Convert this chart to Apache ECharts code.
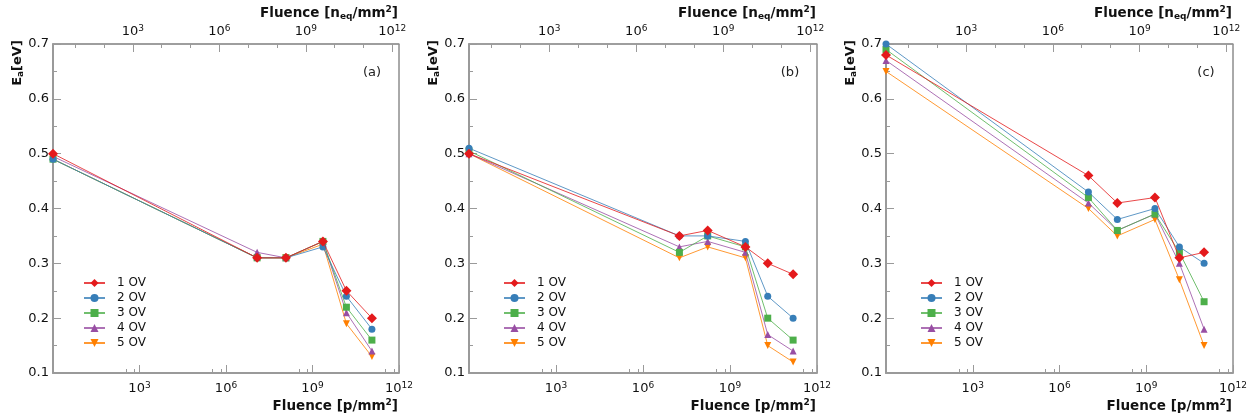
<!DOCTYPE html>
<html><head><meta charset="utf-8">
<script src="https://cdn.jsdelivr.net/npm/echarts@6/dist/echarts.min.js"></script>
<style>html,body{margin:0;padding:0;background:#fff}#c{width:1257px;height:419px}</style>
</head><body><div id="c"></div><script>
// ---- data ----
const seriesNames = ['1 OV', '2 OV', '3 OV', '4 OV', '5 OV'];
const panelLabels = ['(a)', '(b)', '(c)'];
// fluence values [p/mm^2] (un-irradiated point drawn at 1)
const fluenceA = [1, 1.2e7, 1.2e8, 2.3e9, 1.5e10, 1.15e11];
const fluenceB = [1, 1.8e7, 1.7e8, 3.4e9, 2.0e10, 1.5e11];
const fluenceC = [1, 1.0e7, 1.0e8, 2.0e9, 1.4e10, 1.0e11];
// activation energy E_a [eV], one row per over-voltage
const eaA_1 = [0.50, 0.31, 0.31, 0.34, 0.25, 0.20];
const eaA_2 = [0.49, 0.31, 0.31, 0.33, 0.24, 0.18];
const eaA_3 = [0.49, 0.31, 0.31, 0.34, 0.22, 0.16];
const eaA_4 = [0.495, 0.32, 0.31, 0.34, 0.21, 0.14];
const eaA_5 = [0.49, 0.31, 0.31, 0.335, 0.19, 0.13];
const eaB_1 = [0.50, 0.35, 0.36, 0.33, 0.30, 0.28];
const eaB_2 = [0.51, 0.35, 0.35, 0.34, 0.24, 0.20];
const eaB_3 = [0.505, 0.32, 0.35, 0.33, 0.20, 0.16];
const eaB_4 = [0.50, 0.33, 0.34, 0.32, 0.17, 0.14];
const eaB_5 = [0.50, 0.31, 0.33, 0.31, 0.15, 0.12];
const eaC_1 = [0.68, 0.46, 0.41, 0.42, 0.31, 0.32];
const eaC_2 = [0.70, 0.43, 0.38, 0.40, 0.33, 0.30];
const eaC_3 = [0.69, 0.42, 0.36, 0.39, 0.32, 0.23];
const eaC_4 = [0.67, 0.41, 0.36, 0.39, 0.30, 0.18];
const eaC_5 = [0.65, 0.40, 0.35, 0.38, 0.27, 0.15];
// axis ranges and tick values
const fluenceMin = 1, fluenceMax = 1e12;
const neqFactor = 1.71;            // n_eq = factor * p
const neqMajorTicks = [1e3, 1e6, 1e9, 1e12];
const neqMinorTicks = [1e1, 1e2, 1e4, 1e5, 1e7, 1e8, 1e10, 1e11];
const eaMin = 0.1, eaMax = 0.7, eaStep = 0.1;

const panels = [
  { fluence: fluenceA, ea: [eaA_1, eaA_2, eaA_3, eaA_4, eaA_5] },
  { fluence: fluenceB, ea: [eaB_1, eaB_2, eaB_3, eaB_4, eaB_5] },
  { fluence: fluenceC, ea: [eaC_1, eaC_2, eaC_3, eaC_4, eaC_5] }
];

// ---- style ----
const FONT = 'DejaVu Sans';
const colors = ['#e41a1c', '#377eb8', '#4daf4a', '#984ea3', '#ff7f00'];
const symbols = ['diamond', 'circle', 'rect', 'triangle', 'triangle'];
const symRot = [0, 0, 0, 0, 180];
const symSize = [10, 7, 7, 7, 7];
const grids = [
  { left: 53, top: 44, width: 346, height: 329 },
  { left: 469, top: 44, width: 348, height: 329 },
  { left: 886, top: 44, width: 347, height: 329 }
];
const legendOffsets = [25, 29, 29];
const axisGray = '#9a9a9a';

function powLabel(v) {
  const l = Math.log10(v);
  const e = Math.round(l);
  if (Math.abs(l - e) > 0.01 || e <= 0 || e % 3 !== 0) return '';
  return '10{s|' + e + '}';
}
const powRich = {
  s: { fontSize: 9, fontFamily: FONT, color: '#111', verticalAlign: 'top', lineHeight: 16, padding: [0, 0, 5, 0] }
};
const labelBase = { fontFamily: FONT, fontSize: 13, color: '#111', lineHeight: 16, rich: powRich, formatter: powLabel };

const xAxes = [], yAxes = [], series = [], legends = [], graphics = [];
grids.forEach((g, i) => {
  // bottom: p/mm^2
  xAxes.push({
    type: 'log', logBase: 10, gridIndex: i, position: 'bottom',
    min: fluenceMin, max: fluenceMax, interval: 3,
    axisLine: { onZero: false, lineStyle: { color: axisGray, width: 2 } },
    axisTick: { inside: true, length: 8, lineStyle: { color: axisGray } },
    minorTick: { show: true, splitNumber: 3, length: 4, lineStyle: { color: axisGray } },
    splitLine: { show: false },
    axisLabel: Object.assign({ margin: 8 }, labelBase)
  });
  // top: n_eq/mm^2 major
  xAxes.push({
    type: 'log', logBase: 10, gridIndex: i, position: 'top',
    min: fluenceMin * neqFactor, max: fluenceMax * neqFactor,
    axisLine: { onZero: false, lineStyle: { color: axisGray, width: 1.5 } },
    axisTick: { inside: true, length: 8, lineStyle: { color: axisGray }, customValues: neqMajorTicks },
    splitLine: { show: false },
    axisLabel: Object.assign({ margin: 4, customValues: neqMajorTicks }, labelBase)
  });
  // top: n_eq/mm^2 minor (decade ticks)
  xAxes.push({
    type: 'log', logBase: 10, gridIndex: i, position: 'top',
    min: fluenceMin * neqFactor, max: fluenceMax * neqFactor,
    axisLine: { show: false, onZero: false },
    axisTick: { inside: true, length: 4, lineStyle: { color: axisGray }, customValues: neqMinorTicks },
    splitLine: { show: false },
    axisLabel: { show: false }
  });
  yAxes.push({
    type: 'value', gridIndex: i, min: eaMin, max: eaMax, interval: eaStep,
    axisLine: { onZero: false, lineStyle: { color: axisGray, width: 2 } },
    axisTick: { inside: true, length: 8, lineStyle: { color: axisGray } },
    minorTick: { show: true, splitNumber: 2, length: 4, lineStyle: { color: axisGray } },
    splitLine: { show: false },
    axisLabel: { margin: 4, fontFamily: FONT, fontSize: 13, color: '#111', formatter: v => v.toFixed(1) }
  });
  const p = panels[i];
  seriesNames.forEach((name, k) => {
    series.push({
      type: 'line', name: name, xAxisIndex: i * 3, yAxisIndex: i,
      data: p.fluence.map((f, j) => [f, p.ea[k][j]]),
      symbol: symbols[k], symbolRotate: symRot[k], symbolSize: symSize[k],
      itemStyle: { color: colors[k] },
      lineStyle: { color: colors[k], width: 1, opacity: 0.8 },
      z: 10 - k, animation: false
    });
  });
  const right = g.left + g.width;
  legends.push({
    orient: 'vertical', left: g.left + legendOffsets[i], top: 272,
    data: seriesNames, itemWidth: 21, itemHeight: 10, itemGap: 3,
    textStyle: { fontFamily: FONT, fontSize: 12, color: '#111', padding: [0, 0, 0, 7] },
    selectedMode: false
  });
  graphics.push({
    type: 'text', x: right - 1, y: 13,
    style: {
      text: 'Fluence [n{sub|eq}/mm{sup|2}]', align: 'right', verticalAlign: 'middle',
      fontFamily: FONT, fontSize: 13.5, fontWeight: 'bold', fill: '#111',
      rich: {
        sub: { fontFamily: FONT, fontSize: 9, fontWeight: 'bold', verticalAlign: 'bottom', lineHeight: 16, padding: [5, 0, 0, 0] },
        sup: { fontFamily: FONT, fontSize: 9, fontWeight: 'bold', verticalAlign: 'top', lineHeight: 16, padding: [0, 0, 6, 0] }
      }
    }
  });
  graphics.push({
    type: 'text', x: right - 1, y: 406,
    style: {
      text: 'Fluence [p/mm{sup|2}]', align: 'right', verticalAlign: 'middle',
      fontFamily: FONT, fontSize: 13.5, fontWeight: 'bold', fill: '#111',
      rich: {
        sup: { fontFamily: FONT, fontSize: 9, fontWeight: 'bold', verticalAlign: 'top', lineHeight: 16, padding: [0, 0, 6, 0] }
      }
    }
  });
  graphics.push({
    type: 'text', x: g.left - 35, y: 63, rotation: Math.PI / 2,
    style: {
      text: 'E{sub|a}[eV]', align: 'center', verticalAlign: 'middle',
      fontFamily: FONT, fontSize: 13, fontWeight: 'bold', fill: '#111',
      rich: {
        sub: { fontFamily: FONT, fontSize: 9, fontWeight: 'bold', verticalAlign: 'bottom', lineHeight: 15, padding: [5, 0, 0, 0] }
      }
    }
  });
  graphics.push({
    type: 'text', x: right - 27, y: 73,
    style: { text: panelLabels[i], align: 'center', verticalAlign: 'middle', fontFamily: FONT, fontSize: 13, fill: '#222' }
  });
});

const chart = echarts.init(document.getElementById('c'), null, { renderer: 'canvas' });
chart.setOption({
  animation: false,
  backgroundColor: '#fff',
  grid: grids.map(g => Object.assign({ show: true, borderColor: '#555', borderWidth: 1, backgroundColor: 'transparent' }, g)),
  xAxis: xAxes,
  yAxis: yAxes,
  legend: legends,
  series: series,
  graphic: graphics
});
</script></body></html>
